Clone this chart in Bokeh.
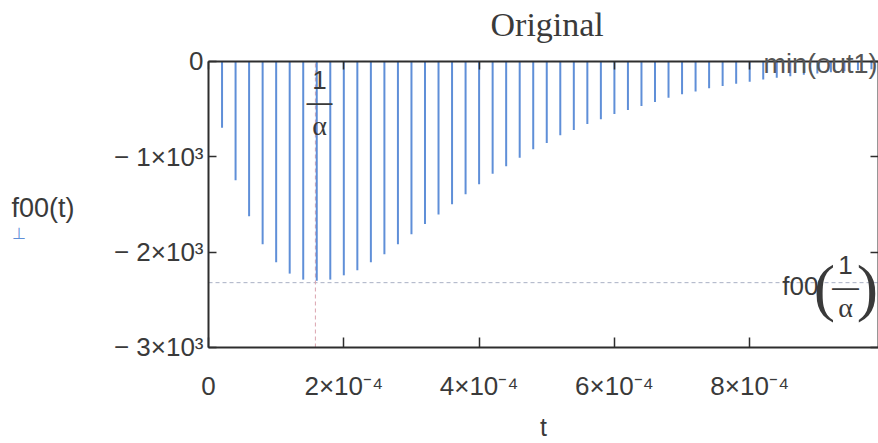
from bokeh.plotting import figure
from bokeh.models import ColumnDataSource, LinearAxis, FixedTicker, Label, Range1d
from bokeh.embed import file_html
from bokeh.resources import INLINE

# ---- data ----
t_values = [2e-5, 4e-5, 6e-5, 8e-5, 1.0e-4, 1.2e-4, 1.4e-4, 1.6e-4, 1.8e-4, 2.0e-4,
            2.2e-4, 2.4e-4, 2.6e-4, 2.8e-4, 3.0e-4, 3.2e-4, 3.4e-4, 3.6e-4, 3.8e-4, 4.0e-4,
            4.2e-4, 4.4e-4, 4.6e-4, 4.8e-4, 5.0e-4, 5.2e-4, 5.4e-4, 5.6e-4, 5.8e-4, 6.0e-4,
            6.2e-4, 6.4e-4, 6.6e-4, 6.8e-4, 7.0e-4, 7.2e-4, 7.4e-4, 7.6e-4, 7.8e-4, 8.0e-4,
            8.2e-4, 8.4e-4, 8.6e-4, 8.8e-4, 9.0e-4, 9.2e-4, 9.4e-4, 9.6e-4, 9.8e-4]
f00_values = [-695, -1245, -1623, -1917, -2106, -2225, -2288, -2300, -2288, -2243,
              -2190, -2106, -2022, -1917, -1812, -1704, -1605, -1497, -1392, -1287,
              -1178, -1098, -1010, -922, -855, -775, -720, -657, -605, -551,
              -509, -467, -425, -380, -345, -315, -280, -257, -233, -212,
              -190, -170, -155, -140, -126, -113, -102, -92, -82]

x_ticks = [0, 2e-4, 4e-4, 6e-4, 8e-4]
x_tick_labels = ["0", "2×10⁻⁴", "4×10⁻⁴", "6×10⁻⁴", "8×10⁻⁴"]
y_ticks = [-3000, -2000, -1000, 0]
y_tick_labels = ["− 3×10³", "− 2×10³", "− 1×10³", "0"]

x_min, x_max = 0.0, 0.99e-3        # plotted t extent
y_min, y_max = -3000, 0             # plotted f00 extent

t_marker = 1.58e-4        # 1/alpha
f_marker = -2320          # f00(1/alpha)
min_out1 = 0

TEXT = "#3a3a3a"
AXIS = "#2e2e2e"
STEM = "#5f8fd8"
SANS = "Liberation Sans"
SERIF = "Liberation Serif"

# view window (frame spans the whole canvas below the title so side texts are inside it)
view_x = (-3.075e-4, 0.9904e-3)
view_y = (-4007, 157)

p = figure(width=878, height=443, output_backend="svg", toolbar_location=None,
           x_range=Range1d(*view_x), y_range=Range1d(*view_y),
           x_axis_type=None, y_axis_type=None,
           min_border_left=0, min_border_right=0, min_border_top=46, min_border_bottom=0)
p.outline_line_color = None
p.background_fill_color = "white"
p.border_fill_color = "white"

p.title.text = "Original"
p.title.align = "left"
p.title.offset = 490
p.title.text_font = SERIF
p.title.text_font_size = "34px"
p.title.text_font_style = "normal"
p.title.text_color = TEXT
p.title.standoff = 7


def style_axis(ax, tick_in):
    ax.axis_line_color = AXIS
    ax.axis_line_width = 2
    ax.major_tick_line_color = AXIS
    ax.major_tick_line_width = 1.5
    ax.major_tick_in = tick_in
    ax.major_tick_out = 0
    ax.minor_tick_line_color = None
    ax.major_label_text_font = SANS
    ax.major_label_text_color = TEXT


# bottom axis at f00 = -3000
xb = LinearAxis(ticker=FixedTicker(ticks=x_ticks), bounds=(x_min, x_max), fixed_location=y_min)
style_axis(xb, 10)
xb.major_label_overrides = dict(zip(x_ticks, x_tick_labels))
xb.major_label_text_font_size = "26px"
xb.major_label_standoff = 24
xb.axis_label = "t"
xb.axis_label_text_font = SANS
xb.axis_label_text_font_style = "normal"
xb.axis_label_text_font_size = "25px"
xb.axis_label_text_color = TEXT
xb.axis_label_standoff = 8
p.add_layout(xb, "below")

# left axis at t = 0
yl = LinearAxis(ticker=FixedTicker(ticks=y_ticks), bounds=(y_min, y_max), fixed_location=x_min)
style_axis(yl, 8)
yl.major_label_overrides = dict(zip(y_ticks, y_tick_labels))
yl.major_label_text_font_size = "26px"
yl.major_label_standoff = 5
p.add_layout(yl, "left")

# top axis at f00 = 0 (ticks only)
xt = LinearAxis(ticker=FixedTicker(ticks=x_ticks), bounds=(x_min, x_max), fixed_location=y_max)
style_axis(xt, 8)
xt.major_label_text_font_size = "10px"
xt.major_label_text_color = None
p.add_layout(xt, "above")

# right axis (ticks only)
yr = LinearAxis(ticker=FixedTicker(ticks=y_ticks), bounds=(y_min, y_max), fixed_location=view_x[1])
style_axis(yr, 8)
yr.major_label_text_font_size = "10px"
yr.major_label_text_color = None
p.add_layout(yr, "right")

# marker lines
p.segment(x0=[x_min], y0=[min_out1], x1=[x_max], y1=[min_out1], line_color="#9aa0b0",
          line_dash="4 3", line_width=1)
p.segment(x0=[x_min], y0=[f_marker], x1=[x_max], y1=[f_marker], line_color="#a9b0c4",
          line_dash="4 3", line_width=1)
p.segment(x0=[t_marker], y0=[y_min], x1=[t_marker], y1=[y_max], line_color="#dba4ae",
          line_dash="4 3", line_width=1)

# stems
src = ColumnDataSource(dict(t=t_values, f=f00_values, z=[0] * len(t_values)))
p.segment(x0="t", y0="z", x1="t", y1="f", source=src, line_color=STEM, line_width=2)


# text annotations (screen units: x from frame left, y from frame bottom)
def lab(text, x, y, size, font=SANS, align="center", color=TEXT):
    p.add_layout(Label(text=text, x=x, y=y, x_units="screen", y_units="screen", text_font=font,
                       text_font_size=size, text_align=align, text_baseline="middle",
                       text_color=color))


B = 443  # frame bottom in page pixels

# 1/alpha at top
lab("1", 319, B - 79, "26px")
lab("—", 319, B - 101, "26px")
lab("α", 319, B - 125, "28px", font=SERIF)

# min(out1)
lab("min(out1)", 877, B - 63, "27px", align="right", color="#555555")

# f00(1/alpha)
lab("f00", 818, B - 285, "26px", align="right")
lab("(", 824, B - 287, "64px", font=SERIF)
lab(")", 867, B - 287, "64px", font=SERIF)
lab("1", 845, B - 264, "26px")
lab("—", 845, B - 286, "27px")
lab("α", 845, B - 307, "28px", font=SERIF)

# y-axis title and trace symbol
lab("f00(t)", 11, B - 207, "27px", align="left")
lab("⊥", 11, B - 233, "16px", align="left", color=STEM)

open("out.html", "w").write(file_html(p, INLINE))
